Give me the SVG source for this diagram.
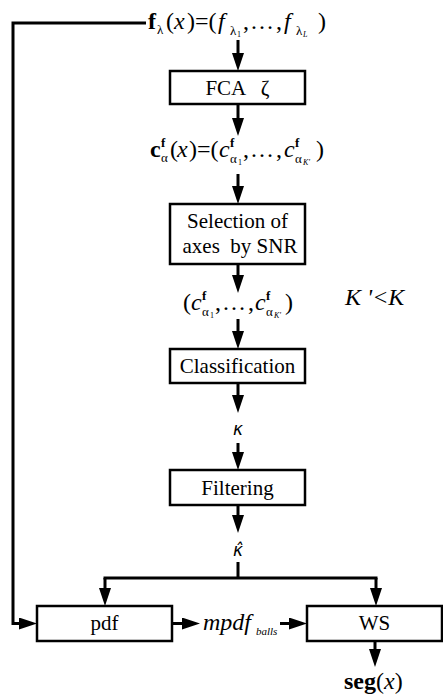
<svg xmlns="http://www.w3.org/2000/svg" width="443" height="697" viewBox="0 0 443 697">
<style>
text{font-family:"Liberation Serif","Times New Roman",serif;fill:#000}
.box{fill:#fff;stroke:#000;stroke-width:2.5}
.lbl{font-size:21px;text-anchor:middle}
.m{font-size:24px}
.i{font-style:italic}
.b{font-weight:bold}
.s{font-size:13px}
.ss{font-size:8px}
.k{font-family:"DejaVu Sans",sans-serif;font-style:italic;font-size:17px;text-anchor:middle}
.ln{fill:none;stroke:#000;stroke-width:3}
.ar{fill:none;stroke:#000;stroke-width:3;marker-end:url(#ah)}
</style>
<defs>
<marker id="ah" markerWidth="18" markerHeight="12" refX="8" refY="6" orient="auto" markerUnits="userSpaceOnUse"><path d="M0,0 L18,6 L0,12 z" fill="#000"/></marker>
</defs>
<g id="connectors">
<path class="ar" d="M146,23 H13 V623.5 H27"/>
<path class="ar" d="M238,40 V61"/>
<path class="ar" d="M238,104 V126"/>
<path class="ar" d="M238,174 V194"/>
<path class="ar" d="M238,264 V283"/>
<path class="ar" d="M238,319 V339"/>
<path class="ar" d="M238,383 V403"/>
<path class="ar" d="M238,443 V460"/>
<path class="ar" d="M238,505 V523"/>
<path class="ln" d="M238,562 V578 M103.5,578 H377.5"/>
<path class="ar" d="M105,578 V596"/>
<path class="ar" d="M376,578 V596"/>
<path class="ar" d="M172,623.5 H190"/>
<path class="ar" d="M280,623.5 H297"/>
<path class="ar" d="M375,641 V657"/>
</g>
<g id="input">
<text class="m b" x="148" y="29">f</text>
<text class="s" x="157" y="34">λ</text>
<text class="m" x="166" y="29">(</text>
<text class="m i" x="174" y="29">x</text>
<text class="m" x="187" y="29">)=(</text>
<text class="m i" x="218" y="29">f</text>
<text class="s" x="230" y="35">λ</text>
<text class="ss" x="237" y="37">1</text>
<text class="m" x="243" y="29">,</text>
<text class="m" x="250" y="29">…</text>
<text class="m" x="276" y="29">,</text>
<text class="m i" x="284" y="29">f</text>
<text class="s" x="296" y="35">λ</text>
<text class="ss i" x="303" y="37">L</text>
<text class="m" x="318" y="29">)</text>
</g>
<g id="fca">
<rect class="box" x="170" y="71" width="135" height="33"/>
<text class="lbl" x="237.5" y="95" xml:space="preserve">FCA   ζ</text>
</g>
<g id="coeffs">
<text class="m b" x="150" y="157">c</text>
<text class="s b" x="161" y="147">f</text>
<text class="s" x="161" y="162">α</text>
<text class="m" x="170" y="157">(</text>
<text class="m i" x="177" y="157">x</text>
<text class="m" x="189" y="157">)=(</text>
<text class="m i" x="219" y="157">c</text>
<text class="s b" x="230" y="147">f</text>
<text class="s" x="230" y="163">α</text>
<text class="ss" x="238" y="165">1</text>
<text class="m" x="243" y="157">,</text>
<text class="m" x="250" y="157">…</text>
<text class="m" x="276" y="157">,</text>
<text class="m i" x="284" y="157">c</text>
<text class="s b" x="295" y="147">f</text>
<text class="s" x="295" y="163">α</text>
<text class="ss i" x="303" y="165">K'</text>
<text class="m" x="316" y="157">)</text>
</g>
<g id="selection">
<rect class="box" x="170" y="204" width="135" height="60"/>
<text class="lbl" x="237.5" y="228">Selection of</text>
<text class="lbl" x="240" y="253" xml:space="preserve">axes  by SNR</text>
</g>
<g id="selected">
<text class="m" x="183" y="310">(</text>
<text class="m i" x="191" y="310">c</text>
<text class="s b" x="202" y="300">f</text>
<text class="s" x="202" y="316">α</text>
<text class="ss" x="210" y="318">1</text>
<text class="m" x="215" y="310">,</text>
<text class="m" x="222" y="310">…</text>
<text class="m" x="248" y="310">,</text>
<text class="m i" x="255" y="310">c</text>
<text class="s b" x="266" y="300">f</text>
<text class="s" x="266" y="316">α</text>
<text class="ss i" x="274" y="318">K'</text>
<text class="m" x="285" y="310">)</text>
</g>
<g id="condition">
<text class="m i" x="345" y="305" xml:space="preserve">K '&lt;K</text>
</g>
<g id="classification">
<rect class="box" x="170" y="349" width="135" height="34"/>
<text class="lbl" x="237.5" y="373">Classification</text>
</g>
<g id="kappa">
<text class="k" x="238" y="435">κ</text>
</g>
<g id="filtering">
<rect class="box" x="170" y="470" width="135" height="35"/>
<text class="lbl" x="237.5" y="495">Filtering</text>
</g>
<g id="kappahat">
<text class="k" x="238" y="556">κ̂</text>
</g>
<g id="pdf">
<rect class="box" x="37" y="606" width="135" height="35"/>
<text class="lbl" x="104.5" y="630">pdf</text>
</g>
<g id="mpdf">
<text class="i" x="203" y="630" style="font-size:24px">mpdf</text>
<text class="i" x="256" y="635" style="font-size:11px">balls</text>
</g>
<g id="ws">
<rect class="box" x="307" y="606" width="135" height="35"/>
<text class="lbl" x="374.5" y="630">WS</text>
</g>
<g id="seg">
<text class="m" x="344" y="689"><tspan class="b">seg</tspan>(<tspan class="i">x</tspan>)</text>
</g>
</svg>
